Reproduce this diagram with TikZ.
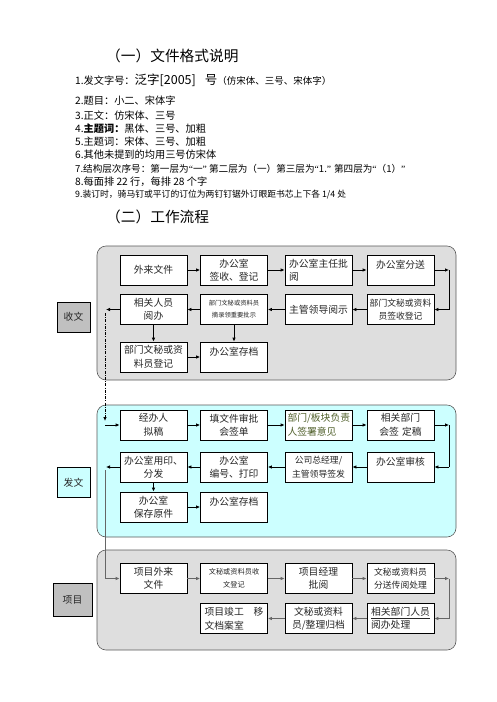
\documentclass[tikz,border=0pt]{standalone}
\usepackage{fontspec}
\setmainfont{Noto Sans CJK SC}
\newfontfamily\latq{Liberation Serif}
\usetikzlibrary{arrows.meta}
\definecolor{pgray}{HTML}{DEDEDE}
\definecolor{pcyan}{HTML}{CCFFFF}
\definecolor{lgray}{HTML}{C0C0C0}
\definecolor{olivet}{HTML}{4F5F2A}
\newcommand{\toptext}[1]{\parbox[c][27pt][t]{64pt}{\centering\vspace{3.5pt}#1}}
\newcommand{\myLq}{{\latq “}}
\newcommand{\myRq}{{\latq ”}}
\begin{document}
\begin{tikzpicture}[x=1pt,y=-1pt,
  box/.style={draw, fill=white, line width=0.8pt, minimum width=67pt, minimum height=30pt,
    inner sep=1pt, font=\fontsize{9.8}{13.5}\selectfont, align=center, text=black!85},
  dense/.style={font=\fontsize{8.8}{13.5}\selectfont},
  tiny/.style={font=\fontsize{6.3}{12}\selectfont},
  small/.style={font=\fontsize{7.2}{13}\selectfont},
  panel/.style={draw=black!65, line width=0.6pt, rounded corners=9pt},
  lab/.style={draw, line width=0.8pt, minimum width=33pt, minimum height=30pt,
    font=\fontsize{9.8}{12}\selectfont, text=black!85},
  arr/.style={-{Latex[length=4pt,width=3.6pt]}, line width=0.8pt},
  garr/.style={arr, draw=black!60, fill=black!60},
  txt/.style={anchor=west, inner sep=0pt, font=\fontsize{10.2}{12}\selectfont},
]
\path[use as bounding box] (0,0) rectangle (496,702);

% ---------- top text ----------
\node[txt, font=\fontsize{14.7}{16}\selectfont] (t0) at (106,56) {（一）文件格式说明};
\node[txt] (t1) at (75,80) {1.发文字号：{\fontsize{12.5}{14}\selectfont 泛字[2005]\hspace{9pt}号}{\fontsize{9.5}{12}\selectfont （仿宋体、三号、宋体字）}};
\node[txt] (t2) at (75,101) {2.题目：小二、宋体字};
\node[txt] (t3) at (75,116) {3.正文：仿宋体、三号};
\node[txt] (t4) at (75,129) {4.\textbf{主题词：}黑体、三号、加粗};
\node[txt] (t5) at (75,142) {5.主题词：宋体、三号、加粗};
\node[txt] (t6) at (75,155) {6.其他未提到的均用三号仿宋体};
\node[txt, font=\fontsize{9.6}{12}\selectfont] (t7) at (75,169) {7.结构层次序号：第一层为\myLq 一\myRq{} 第二层为（一）第三层为\myLq 1.\myRq{} 第四层为\myLq（1）\myRq};
\node[txt] (t8) at (75,182) {8.每面排 22 行，每排 28 个字};
\node[txt, font=\fontsize{8.8}{10}\selectfont] (t9) at (75,195) {9.装订时，骑马钉或平订的订位为两钉钉锯外订眼距书芯上下各 1/4 处};
\node[txt, font=\fontsize{14.7}{16}\selectfont] (t10) at (106,217) {（二）工作流程};

% ---------- panels ----------
\path[panel, fill=pgray] (97,246) rectangle (456,380);
\path[panel, fill=pcyan] (97,405) rectangle (456,537);
\path[panel, fill=pgray] (97,550) rectangle (456,650);

% ---------- labels ----------
\node[lab, fill=lgray] (L1) at (73.5,317) {收文};
\node[lab, fill=pcyan] (L2) at (73.5,482.5) {发文};
\node[lab, fill=lgray, minimum width=39pt, minimum height=33pt] (L3) at (72.5,599.5) {项目};

% ---------- panel 1: 收文 ----------
\node[box] (a1) at (153.5,270) {外来文件};
\node[box] (a2) at (234,270) {办公室\\签收、登记};
\node[box, align=left] (a3) at (318.5,270) {办公室主任批\\阅};
\node[box] (a4) at (400.5,270) {\toptext{办公室分送}};
\node[box] (b1) at (153.5,309.5) {相关人员\\阅办};
\node[box, tiny] (b2) at (234,309.5) {部门文秘或资料员\\摘录领重要批示};
\node[box] (b3) at (318.5,309.5) {主管领导阅示};
\node[box, dense] (b4) at (400.5,309.5) {部门文秘或资料\\员签收登记};
\node[box] (c1) at (153.5,357) {部门文秘或资\\料员登记};
\node[box] (c2) at (234,357) {\toptext{办公室存档}};

\draw[arr] (a1) -- (a2);
\draw[arr] (a2) -- (a3);
\draw[arr] (a3) -- (a4);
\coordinate (p1r1) at (449,270);
\coordinate (p1r2) at (449,309.5);
\draw[arr] (a4.east) -- (p1r1);
\draw[line width=0.8pt] (p1r1) -- (p1r2);
\draw[arr] (p1r2) -- (b4.east);
\draw[arr] (b4) -- (b3);
\draw[arr] (b3) -- (b2);
\draw[arr] (b2) -- (b1);
\coordinate (p1l) at (106,309.5);
\draw[arr] (b1.west) -- (p1l);
\draw[arr] (b1) -- (c1);
\draw[arr] (b2) -- (c2);
\draw[arr] (c1) -- (c2);
\coordinate (d1a) at (105,313);
\coordinate (d1b) at (105,421);
\draw[arr, dash pattern=on 3pt off 1.2pt on 1pt off 1.2pt, line width=0.9pt] (d1a) -- (d1b);

% ---------- panel 2: 发文 ----------
\node[box] (e1) at (153.5,425) {经办人\\拟稿};
\node[box] (e2) at (234,425) {填文件审批\\会签单};
\node[box, align=left, text=olivet] (e3) at (318.5,425) {\makebox[62pt][l]{部门/板\hfill 块\hfill 负\hfill 责}\\人签署意见};
\node[box] (e4) at (400.5,425) {相关部门\\会签\hspace{3pt}定稿};
\node[box] (f1) at (153.5,467) {办公室用印、\\分发};
\node[box] (f2) at (234,467) {办公室\\编号、打印};
\node[box, dense] (f3) at (318.5,467) {公司总经理/\\主管领导签发};
\node[box] (f4) at (400.5,467) {\toptext{办公室审核}};
\node[box] (g1) at (153.5,507) {办公室\\保存原件};
\node[box] (g2) at (234,507) {\toptext{办公室存档}};

\coordinate (p2in) at (105,425);
\draw[arr] (p2in) -- (e1.west);
\draw[arr] (e1) -- (e2);
\draw[arr] (e2) -- (e3);
\draw[arr] (e3) -- (e4);
\coordinate (p2r1) at (449,425);
\coordinate (p2r2) at (449,467);
\draw[arr] (e4.east) -- (p2r1);
\draw[line width=0.8pt] (p2r1) -- (p2r2);
\draw[arr] (p2r2) -- (f4.east);
\draw[arr] (f4) -- (f3);
\draw[arr] (f3) -- (f2);
\draw[arr] (f2) -- (f1);
\coordinate (p2l) at (106,467);
\draw[arr] (f1.west) -- (p2l);
\draw[arr] (f1) -- (g1);
\draw[arr] (g1) -- (g2);
\coordinate (d2a) at (105,470);
\coordinate (d2b) at (105,578.5);
\draw[draw=black!60, line width=0.6pt] (d2a) -- (d2b);

% ---------- panel 3: 项目 ----------
\node[box] (h1) at (153.5,578.5) {项目外来\\文件};
\node[box, small] (h2) at (234,578.5) {文秘或资料员收\\文登记};
\node[box] (h3) at (318.5,578.5) {项目经理\\批阅};
\node[box, dense] (h4) at (400.5,578.5) {文秘或资料员\\分送传阅处理};
\node[box, align=left] (i2) at (234,618.5) {项目竣工　移\\文档案室};
\node[box] (i3) at (318.5,618.5) {文秘或资料\\员/整理归档};
\node[box, align=left] (i4) at (400.5,618.5) {\underline{相关部门人员}\\阅办处理};

\draw[garr] (d2b) -- (h1.west);
\draw[garr] (h1) -- (h2);
\draw[garr] (h2) -- (h3);
\draw[garr] (h3) -- (h4);
\coordinate (p3r1) at (449,578.5);
\coordinate (p3r2) at (449,618.5);
\draw[garr] (h4.east) -- (p3r1);
\draw[draw=black!60, line width=0.8pt] (p3r1) -- (p3r2);
\draw[garr] (p3r2) -- (i4.east);
\draw[garr] (i4) -- (i3);
\draw[garr] (i3) -- (i2);
\end{tikzpicture}
\end{document}
